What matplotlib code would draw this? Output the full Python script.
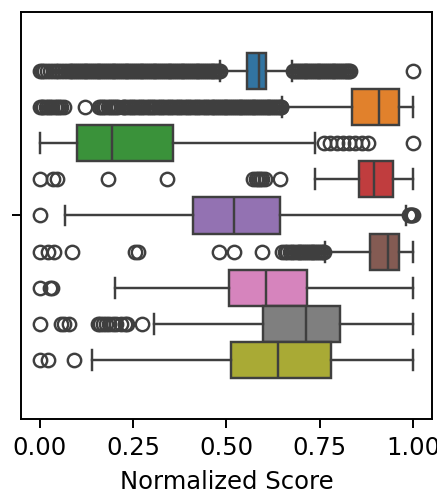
import colorsys
import numpy as np
import matplotlib
matplotlib.use("Agg")
import matplotlib.pyplot as plt
import matplotlib.colors as mcolors

# box statistics (one row per hue, top to bottom)
q1 = [0.554, 0.836, 0.100, 0.856, 0.410, 0.885, 0.508, 0.599, 0.511]
med = [0.588, 0.909, 0.193, 0.896, 0.520, 0.932, 0.607, 0.712, 0.638]
q3 = [0.607, 0.962, 0.357, 0.945, 0.643, 0.962, 0.717, 0.805, 0.780]
whislo = [0.484, 0.650, 0.000, 0.737, 0.067, 0.765, 0.202, 0.307, 0.139]
whishi = [0.675, 1.000, 0.737, 1.000, 0.981, 1.000, 1.000, 1.000, 1.000]

fl_blue = [0.000, 0.005, 0.012, 0.020, 0.027, 0.035, 0.043, 0.050, 0.058, 0.066,
           0.073, 0.080, 0.085, 0.090, 0.095, 0.100, 0.105, 0.110, 0.115, 0.120,
           0.125, 0.130, 0.135, 0.140, 0.145, 0.150, 0.155, 0.160, 0.165, 0.170,
           0.175, 0.180, 0.185, 0.190, 0.195, 0.200, 0.205, 0.210, 0.215, 0.220,
           0.225, 0.230, 0.235, 0.240, 0.245, 0.250, 0.255, 0.260, 0.265, 0.270,
           0.275, 0.280, 0.285, 0.290, 0.295, 0.300, 0.305, 0.310, 0.315, 0.320,
           0.325, 0.330, 0.335, 0.340, 0.345, 0.350, 0.355, 0.360, 0.365, 0.370,
           0.375, 0.380, 0.385, 0.390, 0.395, 0.400, 0.405, 0.410, 0.415, 0.420,
           0.425, 0.430, 0.435, 0.440, 0.445, 0.450, 0.455, 0.460, 0.465, 0.470,
           0.475, 0.480, 0.483,
           0.679, 0.684, 0.689, 0.694, 0.699, 0.704, 0.709, 0.714, 0.719, 0.724,
           0.729, 0.734, 0.739, 0.744, 0.749, 0.754, 0.759, 0.764, 0.769, 0.774,
           0.779, 0.784, 0.789, 0.794, 0.799, 0.804, 0.809, 0.814, 0.819, 0.824,
           0.829, 0.831, 1.000]
fl_orange = [0.000, 0.005, 0.010, 0.016, 0.022, 0.028, 0.034, 0.040, 0.046, 0.052,
             0.058, 0.065,
             0.121,
             0.160, 0.165, 0.170, 0.176, 0.182, 0.188, 0.194, 0.200, 0.205, 0.210,
             0.222, 0.227, 0.232, 0.238, 0.244, 0.250, 0.256, 0.262, 0.268, 0.274,
             0.280, 0.286, 0.292, 0.298, 0.304, 0.310, 0.316, 0.322, 0.328, 0.334,
             0.340, 0.346, 0.352, 0.358, 0.364, 0.370, 0.376, 0.382, 0.388, 0.394,
             0.400, 0.406, 0.412, 0.418, 0.424, 0.430, 0.436, 0.442, 0.448, 0.454,
             0.460, 0.465, 0.470, 0.475, 0.480, 0.485, 0.490, 0.495, 0.500, 0.505,
             0.510, 0.515, 0.520, 0.525, 0.530, 0.535, 0.540, 0.545, 0.550, 0.555,
             0.560, 0.565, 0.570, 0.575, 0.580, 0.585, 0.590, 0.595, 0.600, 0.605,
             0.610, 0.615, 0.620, 0.625, 0.630, 0.635, 0.640, 0.645, 0.647]
fl_green = [0.760, 0.778, 0.795, 0.812, 0.828, 0.845, 0.862, 0.880, 1.000]
fl_red = [0.000, 0.036, 0.045, 0.182, 0.341,
          0.572, 0.578, 0.584, 0.590, 0.596, 0.602, 0.643]
fl_purple = [0.000, 0.988, 0.992, 0.995, 0.998, 1.000]
fl_brown = [0.000, 0.022, 0.038, 0.087, 0.255, 0.262, 0.479, 0.520, 0.596,
            0.650, 0.657, 0.663, 0.670, 0.676, 0.682, 0.688, 0.693, 0.698, 0.703,
            0.708, 0.713, 0.718, 0.723, 0.728, 0.733, 0.738, 0.743, 0.748, 0.753,
            0.758, 0.760]
fl_pink = [0.000, 0.028, 0.033]
fl_gray = [0.000, 0.056, 0.066, 0.078,
           0.155, 0.162, 0.170, 0.178, 0.185, 0.195, 0.205, 0.218, 0.228, 0.235,
           0.273]
fl_olive = [0.000, 0.022, 0.092]
fliers = [fl_blue, fl_orange, fl_green, fl_red, fl_purple, fl_brown,
          fl_pink, fl_gray, fl_olive]

palette = list(plt.get_cmap("tab10").colors)[:9]


def desat(c, prop=0.75):
    h, l, s = colorsys.rgb_to_hls(*mcolors.to_rgb(c))
    return colorsys.hls_to_rgb(h, l, s * prop)


colors = [desat(c) for c in palette]
line_col = "#3f3f3f"

n = len(q1)
w = 0.8 / n
pos = [-0.4 + w * (i + 0.5) for i in range(n)]

stats = []
for i in range(n):
    stats.append(dict(med=med[i], q1=q1[i], q3=q3[i], whislo=whislo[i],
                      whishi=whishi[i], fliers=np.array(fliers[i])))

fig = plt.figure(figsize=(438 / 175, 491 / 175), dpi=175)
ax = fig.add_axes([0.048, 0.1466, 0.938, 0.829])

bp = ax.bxp(stats, positions=pos, widths=w, capwidths=w * 0.55,
            orientation="horizontal", patch_artist=True,
            boxprops=dict(edgecolor=line_col, linewidth=1.0),
            medianprops=dict(color=line_col, linewidth=1.0),
            whiskerprops=dict(color=line_col, linewidth=1.0),
            capprops=dict(color=line_col, linewidth=1.0),
            flierprops=dict(marker="o", markersize=5.5, markerfacecolor="none",
                            markeredgecolor=line_col, markeredgewidth=1.0))
for box, c in zip(bp["boxes"], colors):
    box.set_facecolor(c)

ax.set_ylim(0.5, -0.5)
ax.set_yticks([0])
ax.set_yticklabels([""])
ax.set_xlim(-0.05, 1.05)
ax.set_xticks([0, 0.25, 0.5, 0.75, 1.0])
ax.set_xticklabels(["0.00", "0.25", "0.50", "0.75", "1.00"])
ax.set_xlabel("Normalized Score")

fig.savefig("out.png", dpi=175)
